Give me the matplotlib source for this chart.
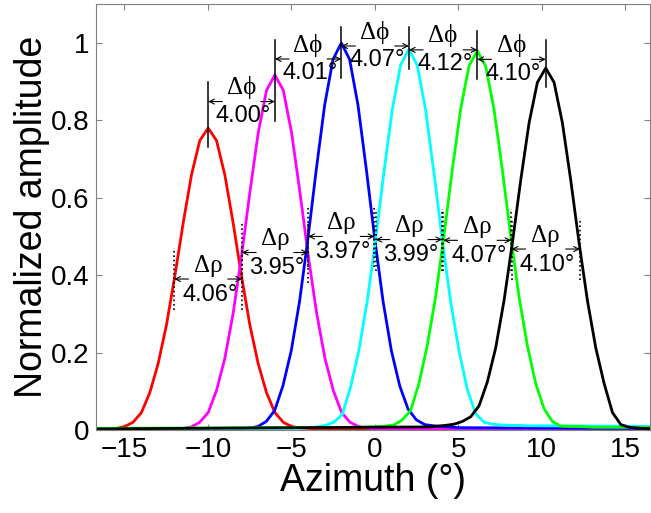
import matplotlib
matplotlib.use('Agg')
import matplotlib.pyplot as plt
from matplotlib.ticker import FormatStrFormatter

plt.rcParams['font.family'] = ['Liberation Sans', 'DejaVu Sans']

# Offsets (deg) from each beam's peak at which amplitudes were read
offsets = [-30, -7, -6.5, -6, -5.5, -5, -4.5, -4, -3.5, -3, -2.5, -2, -1.5, -1, -0.5, 0,
           0.5, 1, 1.5, 2, 2.5, 3, 3.5, 4, 4.5, 5, 5.5, 6, 6.5, 7, 30]

peaks = [-9.98, -5.98, -2.0, 2.05, 6.15, 10.25]
colors = ['#ff0000', '#ff00ff', '#0000ff', '#00ffff', '#00ff00', '#000000']

red = [0.001, 0.001, 0.001, 0.002, 0.004, 0.009, 0.020, 0.045, 0.096, 0.171, 0.271, 0.397, 0.534, 0.659, 0.748, 0.780,
       0.748, 0.659, 0.534, 0.397, 0.271, 0.171, 0.096, 0.045, 0.020, 0.009, 0.005, 0.004, 0.003, 0.003, 0.002]
magenta = [0.002, 0.001, 0.001, 0.002, 0.004, 0.008, 0.020, 0.045, 0.102, 0.185, 0.302, 0.450, 0.614, 0.768, 0.878, 0.917,
           0.878, 0.768, 0.614, 0.450, 0.302, 0.185, 0.102, 0.045, 0.020, 0.009, 0.005, 0.003, 0.002, 0.002, 0.001]
blue = [0.002, 0.002, 0.002, 0.003, 0.005, 0.009, 0.022, 0.050, 0.114, 0.205, 0.333, 0.495, 0.673, 0.839, 0.957, 1.000,
        0.957, 0.839, 0.673, 0.495, 0.333, 0.205, 0.114, 0.054, 0.026, 0.014, 0.011, 0.009, 0.008, 0.006, 0.002]
cyan = [0.002, 0.004, 0.005, 0.006, 0.008, 0.012, 0.020, 0.040, 0.110, 0.205, 0.332, 0.490, 0.665, 0.827, 0.942, 0.984,
        0.942, 0.827, 0.665, 0.490, 0.332, 0.205, 0.105, 0.042, 0.020, 0.015, 0.013, 0.012, 0.012, 0.011, 0.006]
green = [0.003, 0.007, 0.008, 0.009, 0.010, 0.013, 0.026, 0.050, 0.120, 0.218, 0.344, 0.502, 0.672, 0.829, 0.940, 0.980,
         0.940, 0.829, 0.672, 0.502, 0.344, 0.218, 0.120, 0.055, 0.022, 0.010, 0.009, 0.009, 0.008, 0.007, 0.004]
black = [0.002, 0.008, 0.010, 0.012, 0.015, 0.022, 0.034, 0.062, 0.124, 0.212, 0.334, 0.483, 0.645, 0.793, 0.898, 0.935,
         0.898, 0.793, 0.645, 0.483, 0.334, 0.212, 0.120, 0.045, 0.014, 0.007, 0.005, 0.004, 0.003, 0.003, 0.003]
beams = [red, magenta, blue, cyan, green, black]

# peak spacing between neighbouring beams, and 3 dB width of each beam (deg)
dphi = [4.00, 4.01, 4.07, 4.12, 4.10]
drho = [4.06, 3.95, 3.97, 3.99, 4.07, 4.10]

fig = plt.figure(figsize=(6.51, 5.13), dpi=100)
ax = fig.add_axes([0.1475, 0.1618, 0.851, 0.830])

for pk, amp, c in zip(peaks, beams, colors):
    ax.plot([pk + o for o in offsets], amp, color=c, lw=2.0)

sym = ['Liberation Serif', 'DejaVu Serif']
alen = 0.85
aprops = dict(arrowstyle='->', color='k', lw=0.8, shrinkA=0, shrinkB=0, mutation_scale=9)

# delta phi: spacing of peaks
tops = [max(a) for a in beams]
ylev = [(tops[i] + tops[i + 1]) / 2 for i in range(len(dphi))]
for i, pk in enumerate(peaks):
    near = [tops[i]]
    if i > 0:
        near.append(ylev[i - 1])
    if i < len(dphi):
        near.append(ylev[i])
    ax.plot([pk, pk], [min(near) - 0.05, max(near[1:]) + 0.05], color='k', lw=1.1)
for i, d in enumerate(dphi):
    y = ylev[i]
    x0, x1 = peaks[i], peaks[i + 1]
    ax.annotate('', xy=(x0, y), xytext=(x0 + alen, y), arrowprops=aprops)
    ax.annotate('', xy=(x1, y), xytext=(x1 - alen, y), arrowprops=aprops)
    mid = (x0 + x1) / 2
    ax.text(mid, y + 0.036, '\u0394\u03d5', family=sym, fontsize=18, ha='center', va='center')
    ax.text(mid + 0.1, y - 0.037, f'{d:.2f}\u00b0', fontsize=17, ha='center', va='center')

# delta rho: half-power width of each beam
for pk, amp, w in zip(peaks, beams, drho):
    y = max(amp) / 2
    xl, xr = pk - w / 2, pk + w / 2
    for xc in (xl, xr):
        ax.plot([xc, xc], [y - 0.08, y + 0.08], color='k', lw=1.2, ls=':')
    ax.annotate('', xy=(xl, y), xytext=(xl + alen, y), arrowprops=aprops)
    ax.annotate('', xy=(xr, y), xytext=(xr - alen, y), arrowprops=aprops)
    ax.text(pk, y + 0.034, '\u0394\u03c1', family=sym, fontsize=18, ha='center', va='center')
    ax.text(pk + 0.1, y - 0.04, f'{w:.2f}\u00b0', fontsize=17, ha='center', va='center')

ax.set_xlim(-16.7, 16.5)
ax.set_ylim(0, 1.1)
ax.set_xticks([-15, -10, -5, 0, 5, 10, 15])
ax.set_yticks([0, 0.2, 0.4, 0.6, 0.8, 1.0])
ax.yaxis.set_major_formatter(FormatStrFormatter('%g'))
ax.tick_params(direction='in', length=4, width=0.8, color='#808080', labelsize=20,
               top=True, right=True, pad=5)
for s in ax.spines.values():
    s.set_color('#808080')
    s.set_linewidth(0.8)

ax.set_xlabel('Azimuth (\u00b0)', fontsize=27, labelpad=0)
ax.set_ylabel('Normalized amplitude', fontsize=27, labelpad=0)

fig.savefig('out.png', dpi=100)
